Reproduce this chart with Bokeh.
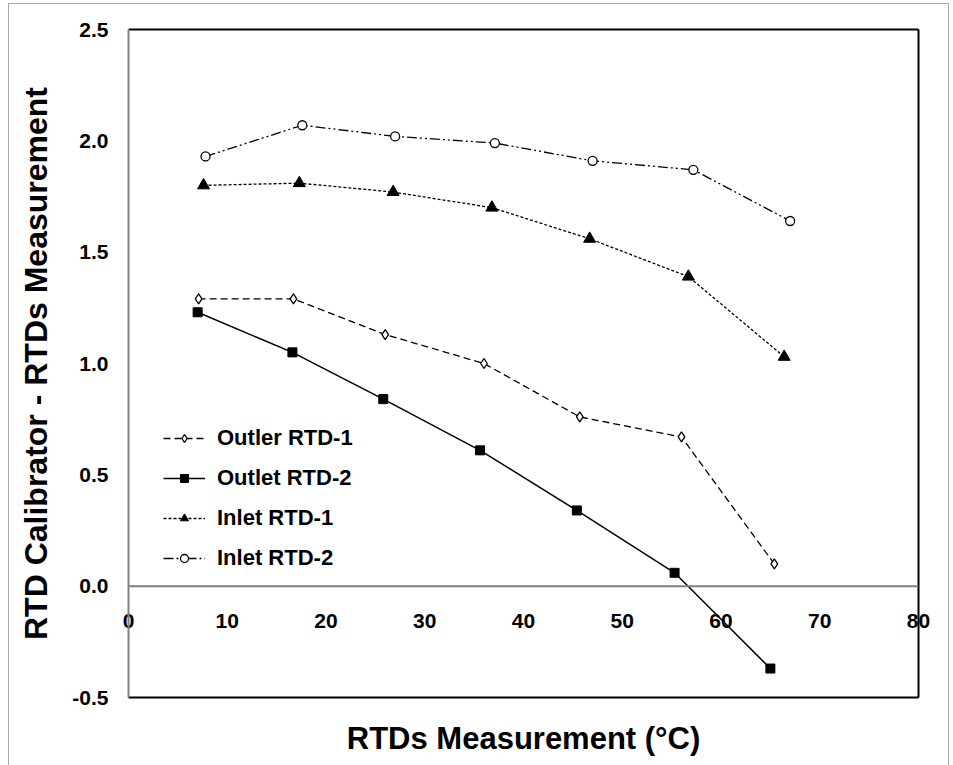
from bokeh.plotting import figure
from bokeh.models import (Range1d, LinearAxis, FixedTicker, Span, Legend,
                          NumeralTickFormatter, InlineStyleSheet)
from bokeh.embed import file_html
from bokeh.resources import INLINE

# ---- data ----
outler1_x = [7.1, 16.7, 26.0, 36.0, 45.7, 56.0, 65.4]
outler1_y = [1.29, 1.29, 1.13, 1.00, 0.76, 0.67, 0.10]
outlet2_x = [7.0, 16.6, 25.8, 35.6, 45.4, 55.3, 65.0]
outlet2_y = [1.23, 1.05, 0.84, 0.61, 0.34, 0.06, -0.37]
inlet1_x = [7.6, 17.3, 26.8, 36.8, 46.7, 56.7, 66.4]
inlet1_y = [1.80, 1.81, 1.77, 1.70, 1.56, 1.39, 1.03]
inlet2_x = [7.8, 17.6, 27.0, 37.1, 47.0, 57.2, 67.0]
inlet2_y = [1.93, 2.07, 2.02, 1.99, 1.91, 1.87, 1.64]

x_ticks = [0, 10, 20, 30, 40, 50, 60, 70, 80]
y_ticks = [-0.5, 0.0, 0.5, 1.0, 1.5, 2.0, 2.5]
x_title = "RTDs Measurement (°C)"
y_title = "RTD Calibrator - RTDs Measurement"

FONT = "Liberation Sans"

frame_css = InlineStyleSheet(css="""
:host { position: relative; }
:host::after {
  content: ''; position: absolute; left: 8px; top: 3px; width: 941px; height: 820px;
  border: 1.5px solid #a8a8a8; pointer-events: none; box-sizing: border-box;
}
""")

p = figure(width=953, height=765, output_backend="svg", toolbar_location=None,
           x_range=Range1d(0, 80), y_range=Range1d(-0.5, 2.5),
           x_axis_type=None, y_axis_type=None,
           min_border_left=128, min_border_right=35, min_border_top=29, min_border_bottom=68,
           stylesheets=[frame_css])
p.outline_line_color = None
p.xgrid.visible = False
p.ygrid.visible = False
p.background_fill_color = "white"
p.border_fill_color = "white"

# left axis (gray line, labels)
yax = LinearAxis(ticker=FixedTicker(ticks=y_ticks))
yax.formatter = NumeralTickFormatter(format="0.0")
yax.axis_line_color = "#808080"
yax.axis_line_width = 2
yax.major_tick_line_color = None
yax.minor_tick_line_color = None
yax.major_tick_out = 0
yax.major_tick_in = 0
yax.major_label_text_font = FONT
yax.major_label_text_font_style = "bold"
yax.major_label_text_font_size = "21px"
yax.major_label_text_color = "black"
yax.major_label_standoff = 20
yax.axis_label = y_title
yax.axis_label_text_font = FONT
yax.axis_label_text_font_style = "bold"
yax.axis_label_text_font_size = "32px"
yax.axis_label_text_color = "black"
yax.axis_label_standoff = 15
p.add_layout(yax, "left")

# bottom axis: border line, tick labels lifted up to the zero line, title
xax = LinearAxis(ticker=FixedTicker(ticks=x_ticks))
xax.axis_line_color = "black"
xax.axis_line_width = 2
xax.major_tick_line_color = None
xax.minor_tick_line_color = None
xax.major_tick_out = 0
xax.major_tick_in = 0
xax.major_label_text_font = FONT
xax.major_label_text_font_style = "bold"
xax.major_label_text_font_size = "21px"
xax.major_label_text_color = "black"
xax.major_label_standoff = -84
xax.axis_label = x_title
xax.axis_label_text_font = FONT
xax.axis_label_text_font_style = "bold"
xax.axis_label_text_font_size = "31px"
xax.axis_label_text_color = "black"
xax.axis_label_standoff = 90
p.add_layout(xax, "below")

for side in ("above", "right"):
    ax = LinearAxis(ticker=FixedTicker(ticks=[]))
    ax.axis_line_color = "black"
    ax.axis_line_width = 2
    ax.major_tick_line_color = None
    ax.minor_tick_line_color = None
    ax.major_label_text_font_size = "0px"
    p.add_layout(ax, side)

# zero line
p.add_layout(Span(location=0, dimension="width", line_color="#808080", line_width=2))

# series
r1l = p.line(outler1_x, outler1_y, line_color="black", line_width=1.3, line_dash="7 4")
r1m = p.scatter(outler1_x, outler1_y, marker="diamond", size=10, fill_color="white",
                line_color="black", line_width=1.3)
r2l = p.line(outlet2_x, outlet2_y, line_color="black", line_width=1.5)
r2m = p.scatter(outlet2_x, outlet2_y, marker="square", size=9, fill_color="black",
                line_color="black")
r3l = p.line(inlet1_x, inlet1_y, line_color="black", line_width=1.3, line_dash="3 2")
r3m = p.scatter(inlet1_x, inlet1_y, marker="triangle", size=12, fill_color="black",
                line_color="black")
r4l = p.line(inlet2_x, inlet2_y, line_color="black", line_width=1.3, line_dash="10 3 2 3 2 3")
r4m = p.scatter(inlet2_x, inlet2_y, marker="circle", size=9, fill_color="white",
                line_color="black", line_width=1.3)

legend = Legend(items=[("Outler RTD-1", [r1l, r1m]),
                       ("Outlet RTD-2", [r2l, r2m]),
                       ("Inlet RTD-1", [r3l, r3m]),
                       ("Inlet RTD-2", [r4l, r4m])],
                location=(35, 126))
legend.glyph_width = 42
legend.glyph_height = 20
legend.label_text_font = FONT
legend.label_text_font_style = "bold"
legend.label_text_font_size = "22px"
legend.label_text_color = "black"
legend.label_standoff = 12
legend.spacing = 14
legend.padding = 0
legend.margin = 0
legend.border_line_color = None
legend.background_fill_alpha = 0
p.add_layout(legend)

open("out.html", "w").write(file_html(p, INLINE))
